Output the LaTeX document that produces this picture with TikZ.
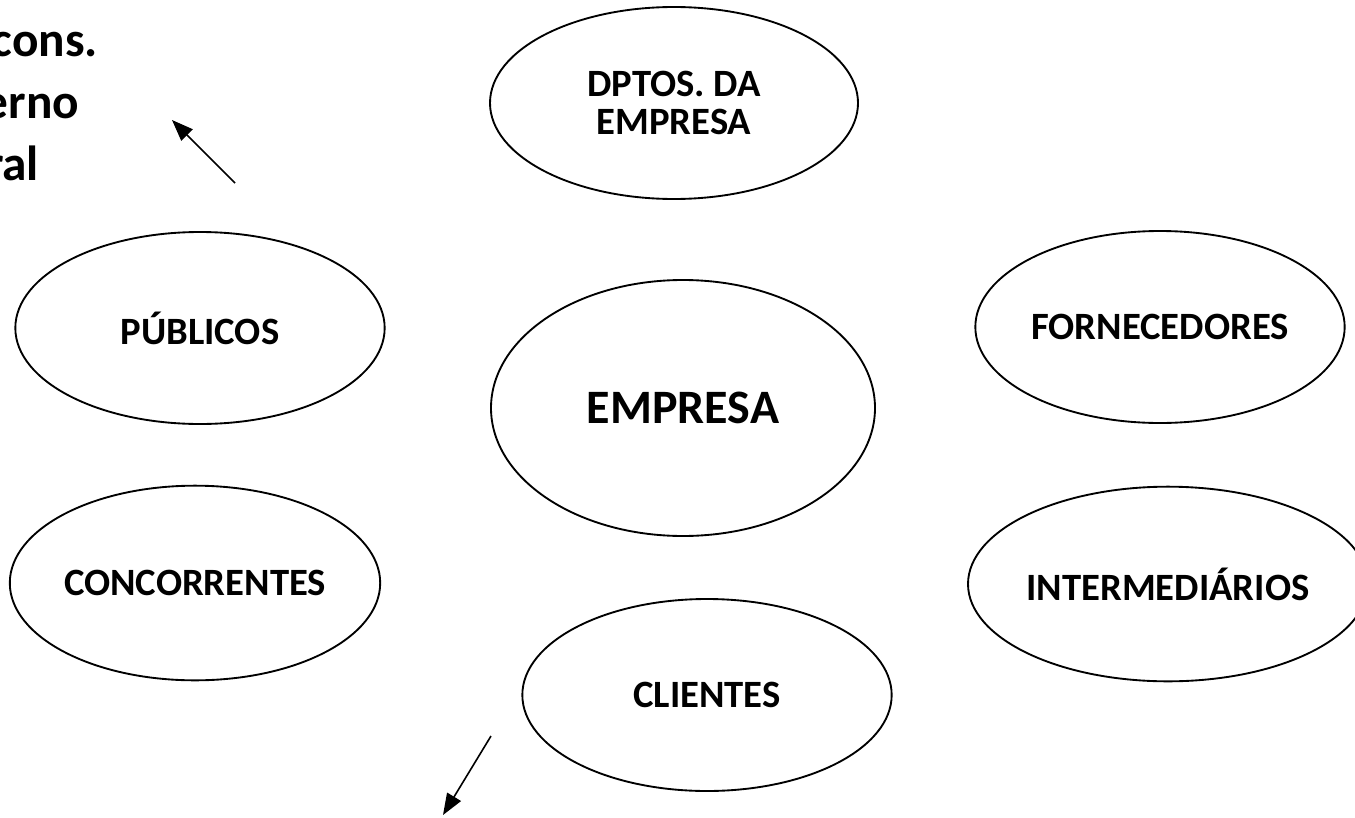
\documentclass[tikz,border=0pt]{standalone}
\usepackage{fontspec}
\setmainfont{Carlito}
\usetikzlibrary{shapes.geometric,arrows.meta}

\tikzset{every picture/.style={line width=1.4pt}}
\tikzset{
  balao/.style={draw, ellipse, inner sep=0pt, minimum width=277pt, minimum height=144pt, font=\fontsize{29}{32}\selectfont\bfseries, align=center},
  seta/.style={-{Triangle[length=16pt,width=12pt]}, line width=1.2pt},
  nota/.style={anchor=base east, inner sep=0pt, font=\fontsize{37}{44}\selectfont\bfseries}
}

\begin{document}
\begin{tikzpicture}[x=0.75pt,y=0.75pt,yscale=-1,xscale=1]
        \useasboundingbox (0,0) rectangle (1355,817);

        %Shape: Ellipse [id:dptos]
        \node [balao, minimum width=276pt] (dptos) at (674,103) {DPTOS. DA\\[-4pt]EMPRESA};
        %Shape: Ellipse [id:publicos]
        \node [balao] (publicos) at (200,328) {PÚBLICOS};
        %Shape: Ellipse [id:empresa]
        \node [balao, minimum width=288pt, minimum height=192pt, font=\fontsize{36}{40}\selectfont\bfseries] (empresa) at (683,408) {EMPRESA};
        %Shape: Ellipse [id:fornecedores]
        \node [balao] (fornecedores) at (1160,327) {FORNECEDORES};
        %Shape: Ellipse [id:concorrentes]
        \node [balao, minimum height=146pt] (concorrentes) at (195,583) {CONCORRENTES};
        %Shape: Ellipse [id:intermediarios]
        \node [balao, minimum width=274pt, minimum height=146pt] (intermediarios) at (1168,584) {INTERMEDIÁRIOS};
        %Shape: Ellipse [id:clientes]
        \node [balao] (clientes) at (707,695) {CLIENTES};

        %Straight Lines [id:seta1]
        \coordinate (s1a) at (235,183);
        \coordinate (s1b) at (172,120);
        \draw [seta] (s1a) -- (s1b);
        %Straight Lines [id:seta2]
        \coordinate (s2a) at (491,736);
        \coordinate (s2b) at (443,815);
        \draw [seta] (s2a) -- (s2b);

        % Text Node
        \node [nota] (linha1) at (99,56) {cons.};
        % Text Node
        \node [nota] (linha2) at (80,118) {erno};
        % Text Node
        \node [nota] (linha3) at (40,180) {ral};

\end{tikzpicture}
\end{document}
